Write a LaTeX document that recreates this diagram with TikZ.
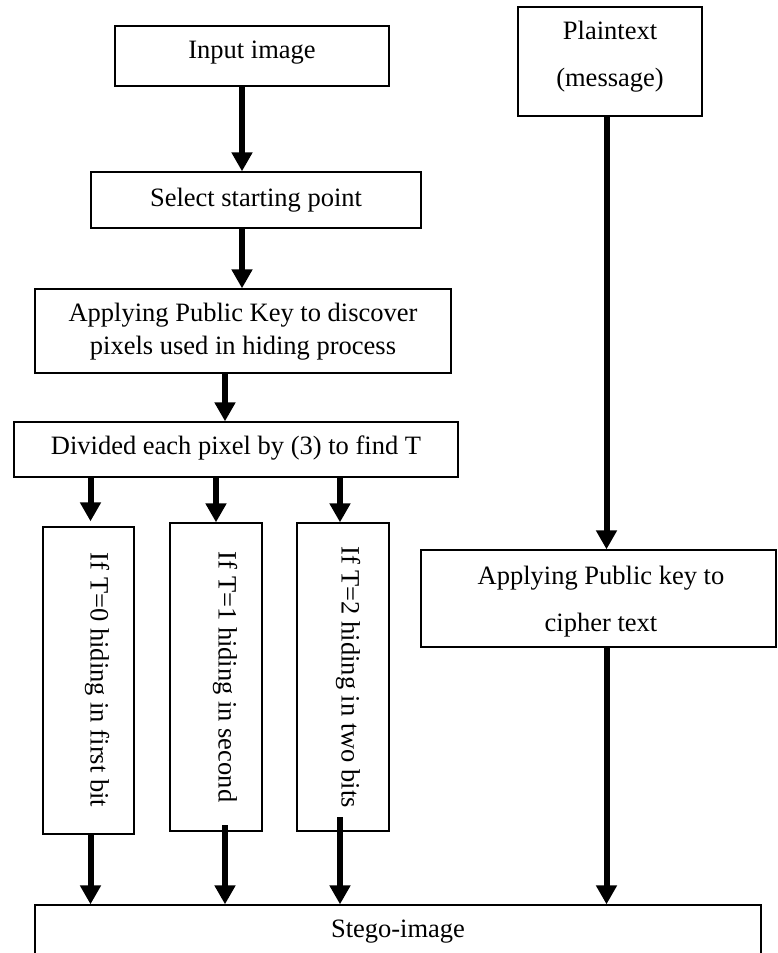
\documentclass[tikz,border=0pt]{standalone}
\usepackage{fontspec}
\setmainfont{Liberation Serif}
\usetikzlibrary{arrows.meta}
\begin{document}
\begin{tikzpicture}[x=1pt,y=-1pt,
  box/.style={draw,line width=1.3pt,rectangle,inner sep=0pt,fill=white},
  lbl/.style={inner sep=0pt,font=\fontsize{26.5}{33}\selectfont,align=center},
  vlbl/.style={inner sep=0pt,font=\fontsize{26.5}{33}\selectfont,rotate=-90},
  arr/.style={line width=6pt,-{Triangle[width=20pt,length=19pt]}}]
\useasboundingbox (0,0) rectangle (777,953);
% boxes
\node[box,minimum width=274pt,minimum height=60pt] (in) at (252,56) {};
\node[lbl] (inT) at (252,53) {Input image};
\node[box,minimum width=330pt,minimum height=56pt] (sel) at (256,200) {};
\node[lbl] (selT) at (256,200) {Select starting point};
\node[box,minimum width=416pt,minimum height=84pt] (apk) at (243,331) {};
\node[lbl] (apkT) at (243,331.5) {Applying Public Key to discover\\pixels used in hiding process};
\node[box,minimum width=444pt,minimum height=55pt] (div) at (236,449.5) {};
\node[lbl] (divT) at (236,448) {Divided each pixel by (3) to find T};
\node[box,minimum width=91pt,minimum height=307pt] (b0) at (88.5,680.5) {};
\node[vlbl] (b0T) at (97,680) {If T=0 hiding in first bit};
\node[box,minimum width=92pt,minimum height=308pt] (b1) at (216,677) {};
\node[vlbl] (b1T) at (225,677) {If T=1 hiding in second};
\node[box,minimum width=92pt,minimum height=308pt] (b2) at (343,677) {};
\node[vlbl] (b2T) at (348,677) {If T=2 hiding in two bits};
\node[box,minimum width=184pt,minimum height=109pt] (pl) at (610,61.5) {};
\node[lbl,font=\fontsize{26.5}{47}\selectfont] (plT) at (610,56.5) {Plaintext\\(message)};
\node[box,minimum width=355pt,minimum height=97pt] (cph) at (598.5,598.5) {};
\node[lbl,font=\fontsize{26.5}{47}\selectfont] (cphT) at (601,601.5) {Applying Public key to\\cipher text};
\node[box,minimum width=726pt,minimum height=60pt] (st) at (398,935) {};
\node[lbl] (stT) at (398,932) {Stego-image};
% arrow x positions
\coordinate (xa) at (242,0);
\coordinate (xc) at (225,0);
\coordinate (x0) at (90.5,0);
\coordinate (x1) at (216,0);
\coordinate (x2) at (340,0);
\coordinate (x1b) at (225,825);
\coordinate (x2b) at (340,817);
\coordinate (xr) at (606.5,0);
% connectors
\draw[arr] (in.south -| xa) -- (sel.north -| xa);
\draw[arr] (sel.south -| xa) -- (apk.north -| xa);
\draw[arr] (apk.south -| xc) -- (div.north -| xc);
\draw[arr] (div.south -| x0) -- ([yshift=5pt]b0.north -| x0);
\draw[arr] (div.south -| x1) -- (b1.north -| x1);
\draw[arr] (div.south -| x2) -- (b2.north -| x2);
\draw[arr] (b0.south -| x0) -- (st.north -| x0);
\draw[arr] (x1b) -- (st.north -| x1b);
\draw[arr] (x2b) -- (st.north -| x2b);
\draw[arr] (pl.south -| xr) -- (cph.north -| xr);
\draw[arr] (cph.south -| xr) -- (st.north -| xr);
\end{tikzpicture}
\end{document}
